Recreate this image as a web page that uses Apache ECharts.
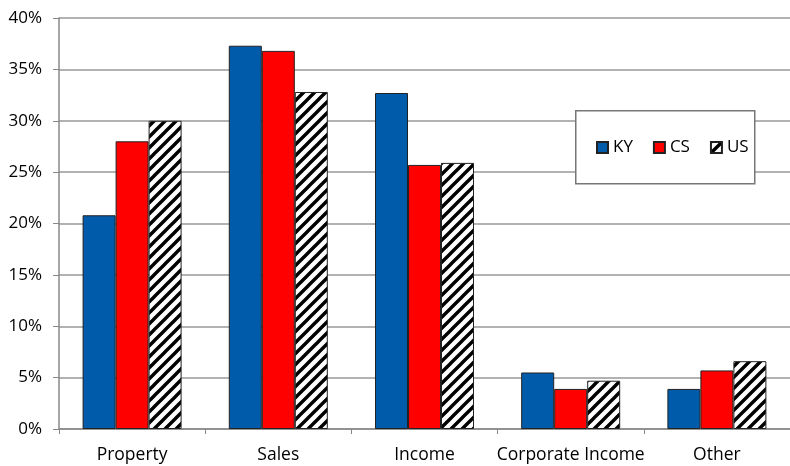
<!DOCTYPE html>
<html><head><meta charset="utf-8">
<script src="https://cdn.jsdelivr.net/npm/echarts@6/dist/echarts.min.js"></script>
<style>html,body{margin:0;padding:0;background:#fff}#c{width:790px;height:466px}</style>
</head><body><div id="c"></div>
<script>
const categories = ['Property', 'Sales', 'Income', 'Corporate Income', 'Other'];
const seriesNames = ['KY', 'CS', 'US'];
const ky = [20.8, 37.3, 32.7, 5.5, 3.9];
const cs = [28.0, 36.8, 25.7, 3.9, 5.7];
const us = [30.0, 32.8, 25.9, 4.7, 6.6];
const yTicks = [0, 5, 10, 15, 20, 25, 30, 35, 40];

function stripe() {
  const s = 11;
  const c = document.createElement('canvas');
  c.width = s; c.height = s;
  const g = c.getContext('2d');
  g.fillStyle = '#fff'; g.fillRect(0, 0, s, s);
  g.strokeStyle = '#000'; g.lineWidth = 3.4; g.lineCap = 'square';
  g.beginPath();
  g.moveTo(-2, s + 2); g.lineTo(s + 2, -2);
  g.moveTo(-2, 2); g.lineTo(2, -2);
  g.moveTo(s - 2, s + 2); g.lineTo(s + 2, s - 2);
  g.stroke();
  return c;
}
const pat = { image: stripe(), repeat: 'repeat' };
const font = '"Open Sans", Lato, sans-serif';
const chart = echarts.init(document.getElementById('c'));
const mk = (name, data, color) => ({
  name, type: 'bar', data, barWidth: 33, barGap: '0%',
  itemStyle: { color, borderColor: '#222', borderWidth: 1 }
});
chart.setOption({
  animation: false,
  textStyle: { fontFamily: font },
  grid: { left: 59, top: 18, width: 736, height: 411, containLabel: false },
  graphic: [{
    type: 'rect', left: 575, top: 110, z: 3,
    shape: { width: 179, height: 73 },
    style: { fill: '#fff', stroke: '#777', lineWidth: 1.5 }
  }],
  legend: {
    left: 596, top: 139, padding: 0, z: 5,
    icon: 'rect', itemWidth: 11, itemHeight: 11, itemGap: 20,
    textStyle: { fontSize: 17, color: '#000', fontFamily: font },
    data: seriesNames
  },
  xAxis: {
    type: 'category', data: categories,
    axisLine: { lineStyle: { color: '#888', width: 1.5 } },
    axisTick: { show: true, length: 5, alignWithLabel: false, lineStyle: { color: '#888' } },
    axisLabel: { fontSize: 17.5, color: '#000', margin: 17, interval: 0 }
  },
  yAxis: {
    type: 'value', min: 0, max: 40, interval: 5,
    axisLine: { show: true, lineStyle: { color: '#888', width: 1.5 } },
    axisTick: { show: true, length: 6, inside: false, lineStyle: { color: '#888' } },
    splitLine: { lineStyle: { color: '#999', width: 1.5 } },
    axisLabel: { fontSize: 17, color: '#000', margin: 17,
      formatter: v => yTicks.includes(v) ? v + '%' : '' }
  },
  series: [mk('KY', ky, '#005BAA'), mk('CS', cs, '#FF0000'), mk('US', us, pat)]
});
</script></body></html>
